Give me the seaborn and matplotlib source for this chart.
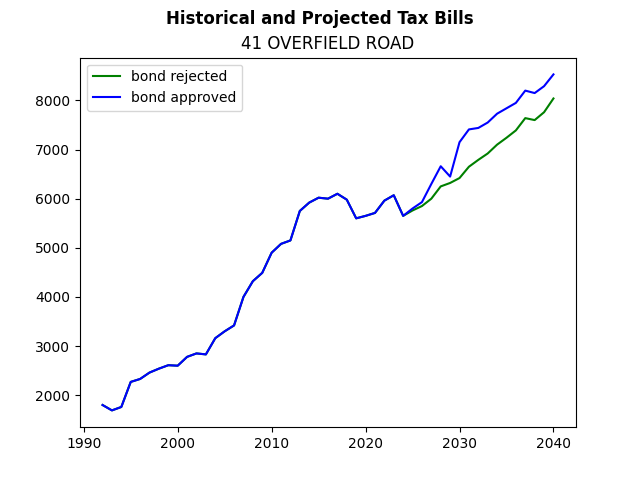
import pandas as pd
import seaborn as sns
from matplotlib import pyplot as plt

years = list(range(1992, 2041))

history = [1800, 1690, 1760, 2270, 2330, 2460, 2540, 2610, 2600, 2780,
           2850, 2830, 3160, 3300, 3420, 4000, 4320, 4490, 4900, 5080,
           5150, 5750, 5920, 6020, 6000, 6100, 5980, 5600, 5650, 5710,
           5960, 6070, 5650]

rejected_future = [5760, 5850, 6000, 6250, 6320, 6420, 6650, 6790, 6920, 7100,
                   7240, 7390, 7640, 7600, 7760, 8040]
approved_future = [5800, 5930, 6300, 6660, 6450, 7150, 7410, 7440, 7550, 7730,
                   7840, 7950, 8200, 8150, 8290, 8530]

df = pd.DataFrame({
    'year': years,
    'bond rejected': history + rejected_future,
    'bond approved': history + approved_future,
})

fig, ax = plt.subplots(figsize=(6.4, 4.8), dpi=100)
sns.lineplot(data=df, x='year', y='bond rejected', color='green', label='bond rejected', ax=ax)
sns.lineplot(data=df, x='year', y='bond approved', color='blue', label='bond approved', ax=ax)

ax.set_xlabel('')
ax.set_ylabel('')
ax.set_title('41 OVERFIELD ROAD')
fig.suptitle('Historical and Projected Tax Bills', fontweight='bold')
ax.legend(loc='upper left')

fig.savefig('out.png')
